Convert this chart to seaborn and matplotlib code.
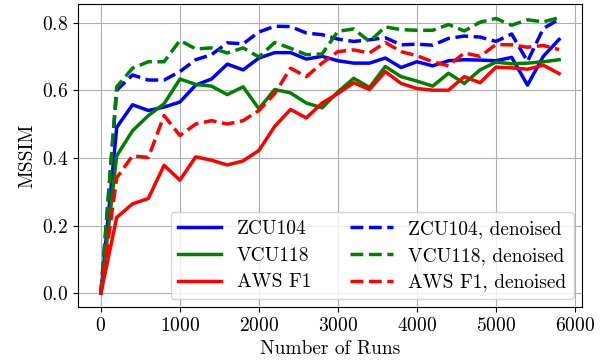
import numpy as np
import pandas as pd
import matplotlib
matplotlib.use("Agg")
import matplotlib.pyplot as plt
import seaborn as sns

plt.rcParams["font.family"] = ["cmr10", "DejaVu Serif"]
plt.rcParams["axes.formatter.use_mathtext"] = True
plt.rcParams["mathtext.fontset"] = "cm"
plt.rcParams["font.size"] = 14

runs = list(range(0, 6000, 200))

zcu104 = [0.0, 0.49, 0.557, 0.54, 0.55, 0.565, 0.615, 0.633, 0.677, 0.66,
          0.695, 0.711, 0.711, 0.692, 0.70, 0.687, 0.68, 0.68, 0.695, 0.667,
          0.684, 0.672, 0.687, 0.69, 0.689, 0.687, 0.697, 0.615, 0.70, 0.75]
vcu118 = [0.0, 0.406, 0.48, 0.525, 0.56, 0.633, 0.617, 0.612, 0.587, 0.61,
          0.545, 0.602, 0.592, 0.562, 0.548, 0.595, 0.635, 0.608, 0.67, 0.64,
          0.627, 0.612, 0.65, 0.62, 0.66, 0.683, 0.678, 0.68, 0.684, 0.69]
aws_f1 = [0.0, 0.224, 0.264, 0.28, 0.378, 0.334, 0.403, 0.393, 0.379, 0.391,
          0.422, 0.493, 0.543, 0.518, 0.562, 0.59, 0.622, 0.602, 0.655, 0.62,
          0.605, 0.60, 0.60, 0.64, 0.622, 0.668, 0.666, 0.662, 0.674, 0.649]
zcu104_dn = [0.0, 0.60, 0.645, 0.63, 0.63, 0.655, 0.69, 0.705, 0.74, 0.737,
             0.772, 0.789, 0.788, 0.769, 0.764, 0.751, 0.744, 0.749, 0.755, 0.734,
             0.736, 0.733, 0.753, 0.76, 0.757, 0.744, 0.766, 0.685, 0.782, 0.81]
vcu118_dn = [0.0, 0.61, 0.665, 0.684, 0.684, 0.747, 0.722, 0.725, 0.71, 0.725,
             0.698, 0.741, 0.724, 0.705, 0.707, 0.774, 0.781, 0.744, 0.787, 0.779,
             0.777, 0.777, 0.794, 0.775, 0.801, 0.812, 0.792, 0.808, 0.802, 0.814]
aws_f1_dn = [0.0, 0.341, 0.406, 0.401, 0.525, 0.466, 0.50, 0.51, 0.50, 0.51,
             0.54, 0.59, 0.665, 0.64, 0.68, 0.714, 0.719, 0.71, 0.741, 0.714,
             0.702, 0.684, 0.672, 0.71, 0.70, 0.735, 0.734, 0.727, 0.732, 0.72]

series = [
    ("ZCU104", zcu104, "blue", "-"),
    ("VCU118", vcu118, "green", "-"),
    ("AWS F1", aws_f1, "red", "-"),
    ("ZCU104, denoised", zcu104_dn, "blue", "--"),
    ("VCU118, denoised", vcu118_dn, "green", "--"),
    ("AWS F1, denoised", aws_f1_dn, "red", "--"),
]

fig = plt.figure(figsize=(6.01, 3.64), dpi=100)
ax = fig.add_axes([78 / 601, 1 - 307 / 364, (582 - 78) / 601, (307 - 4) / 364])

for name, vals, color, ls in series:
    df = pd.DataFrame({"runs": runs, "mssim": vals})
    sns.lineplot(data=df, x="runs", y="mssim", ax=ax, color=color,
                 linestyle=ls, linewidth=2.5, label=name)

ax.set_xticks([0, 1000, 2000, 3000, 4000, 5000, 6000])
ax.set_yticks([0.0, 0.2, 0.4, 0.6, 0.8])
ax.grid(True, color="#b0b0b0", linewidth=0.8)
ax.set_axisbelow(True)
ax.set_xlabel("Number of Runs")
ax.set_ylabel("MSSIM")
ax.legend(loc="lower right", ncol=2, handlelength=2.2, columnspacing=2.0,
          labelspacing=0.45, borderaxespad=0.4)

fig.savefig("out.png", dpi=100)
